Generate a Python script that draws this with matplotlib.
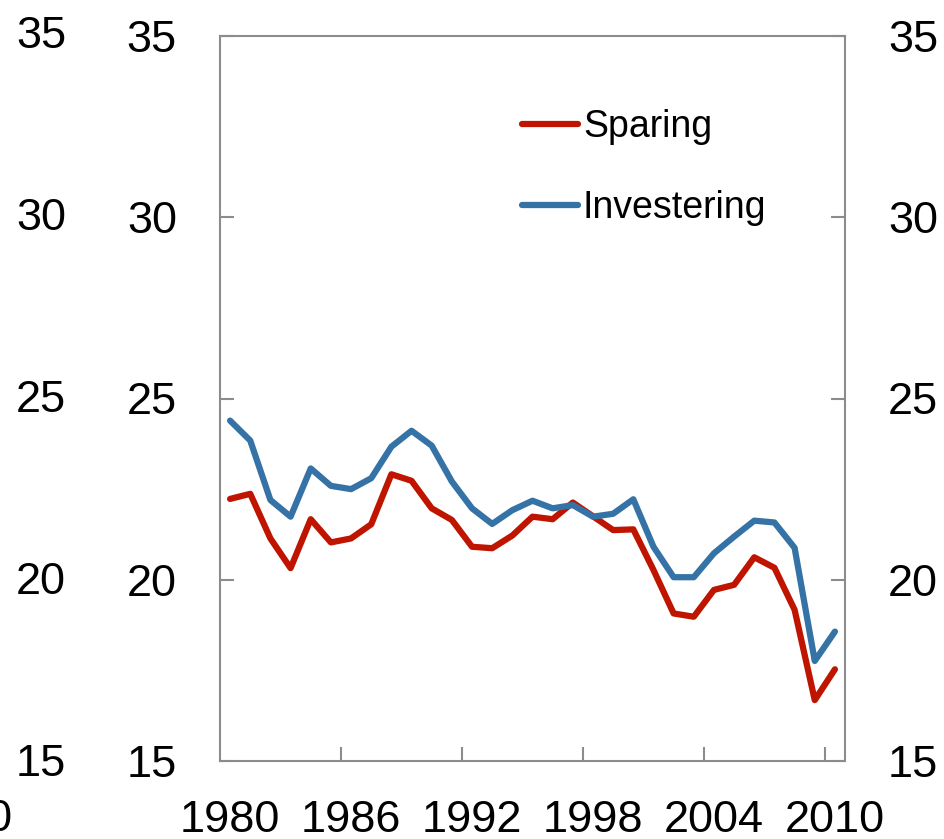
"""
Sparing og investering, 1980-2010 (prosent av BNP).
"""

import matplotlib
matplotlib.use('Agg')
import matplotlib.pyplot as plt

# ── Data ──────────────────────────────────────────────────────
years = list(range(1980, 2011))

sparing = [22.23, 22.37, 21.14, 20.32, 21.67, 21.03, 21.14, 21.53, 22.91, 22.73,
           21.97, 21.65, 20.91, 20.87, 21.22, 21.74, 21.67, 22.13, 21.75, 21.37,
           21.39, 20.27, 19.07, 18.98, 19.72, 19.86, 20.62, 20.33, 19.17, 16.68,
           17.53]

investering = [24.39, 23.84, 22.20, 21.74, 23.07, 22.59, 22.50, 22.80, 23.67, 24.11,
               23.70, 22.71, 21.97, 21.54, 21.92, 22.18, 21.97, 22.06, 21.74, 21.82,
               22.22, 20.91, 20.07, 20.07, 20.73, 21.19, 21.63, 21.58, 20.88, 17.76,
               18.57]

label_years = [1980, 1986, 1992, 1998, 2004, 2010]
between_ticks = [1985.5, 1991.5, 1997.5, 2003.5, 2009.5]
y_ticks = [15, 20, 25, 30, 35]

RED = '#BE1400'
BLUE = '#3572A5'
GREY = '#8C8C8C'

# ── Figure ────────────────────────────────────────────────────
plt.rcParams.update({
    'font.family': ['Liberation Sans', 'DejaVu Sans'],
    'font.size': 32,
})

W, H = 944, 839
fig = plt.figure(figsize=(W / 100, H / 100), dpi=100)


def style_axis(ax):
    ax.set_xlim(1979.5, 2010.5)
    ax.set_ylim(15, 35)
    ax.set_yticks(y_ticks)
    ax.set_xticks(label_years)
    ax.set_xticks(between_ticks, minor=True)
    for s in ax.spines.values():
        s.set_color(GREY)
        s.set_linewidth(1.5)
    ax.tick_params(axis='x', which='major', length=0, pad=28, labelsize=32.5)
    ax.tick_params(axis='x', which='minor', direction='in', length=10,
                   width=1.5, color=GREY, labelbottom=False)
    ax.tick_params(axis='y', direction='in', length=10, width=1.5,
                   color=GREY, left=True, right=True, pad=31, labelsize=32.5)


# cropped neighbour panel on the left (only its right labels show)
ax0 = fig.add_axes([-652 / W, 79 / H, 625 / W, 728 / H])
style_axis(ax0)
ax0.tick_params(axis='y', labelleft=False, labelright=True)

# main panel
ax = fig.add_axes([220 / W, 78 / H, 625 / W, 725 / H])
style_axis(ax)
ax.tick_params(axis='y', labelleft=True, labelright=True)

ax.plot(years, sparing, color=RED, lw=4.5, solid_capstyle='round',
        solid_joinstyle='round', label='Sparing')
ax.plot(years, investering, color=BLUE, lw=4.5, solid_capstyle='round',
        solid_joinstyle='round', label='Investering')

ax.legend(loc='upper left', bbox_to_anchor=(0.483, 0.899), frameon=False,
          fontsize=27, handlelength=1.5, handletextpad=0.13,
          labelspacing=1.2, borderpad=0, borderaxespad=0)

plt.savefig('out.png', dpi=100, facecolor='white')
plt.close()

print("out.png saved")
